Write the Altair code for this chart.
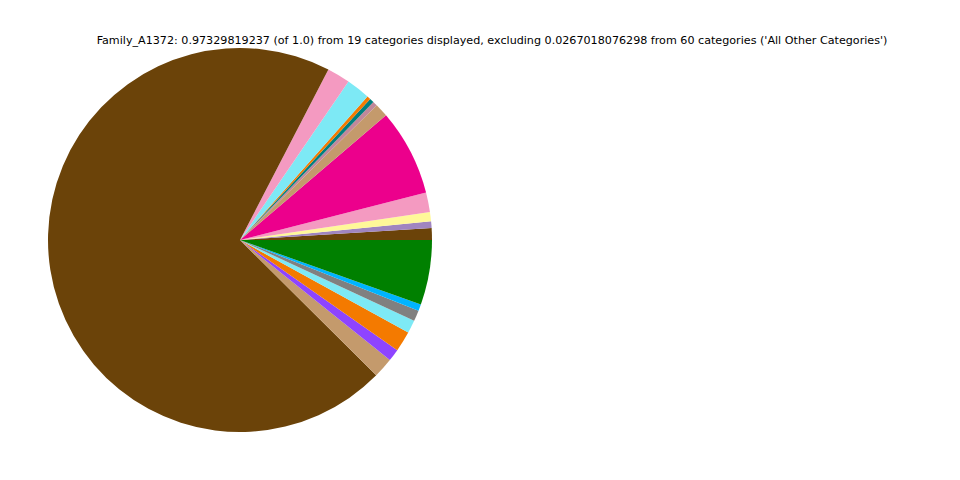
import math
import altair as alt
import pandas as pd

# Slices in matplotlib order (counter-clockwise from 3 o'clock), sizes read in degrees
categories = [f"Category_{i+1}" for i in range(19)]
values = [3.6, 2.0, 2.8, 5.9, 26.2, 4.1, 1.4, 1.3, 1.1, 7.2, 7.0, 252.6,
          6.1, 3.7, 6.2, 3.9, 3.3, 2.0, 19.6]
colors = ["#6b4309", "#a085c0", "#fff899", "#f49ac1", "#ec008c", "#c49a6c",
          "#c0889a", "#007f7f", "#f47a00", "#7de9f5", "#f49ac1", "#6b4309",
          "#c49a6c", "#8e44ff", "#f47a00", "#7de9f5", "#808080", "#00b4ff",
          "#008000"]
title_text = ("Family_A1372: 0.97329819237 (of 1.0) from 19 categories displayed, "
              "excluding 0.0267018076298 from 60 categories ('All Other Categories')")

n = len(categories)
df = pd.DataFrame({
    "cat": categories,
    "value": values,
    # Vega draws clockwise, so reverse the order to mimic counter-clockwise
    "ord": [n - i for i in range(n)],
})

start = math.pi / 2
pie = alt.Chart(df).mark_arc(outerRadius=192, stroke=None).encode(
    theta=alt.Theta("value:Q", stack=True,
                    scale=alt.Scale(range=[start, start + 2 * math.pi])),
    order=alt.Order("ord:Q"),
    color=alt.Color("cat:N", scale=alt.Scale(domain=categories, range=colors),
                    legend=None),
    x=alt.value(232),
    y=alt.value(232),
)

title = alt.Chart(pd.DataFrame({"t": [title_text]})).mark_text(
    font="DejaVu Sans", fontSize=11.15, align="center", baseline="middle", color="black"
).encode(x=alt.value(484), y=alt.value(33), text="t:N")

chart = alt.layer(pie, title).properties(
    width=944, height=464, padding=0, autosize=alt.AutoSizeParams(type="none")
).configure_view(stroke=None)

chart.save("out.html", embed_options={"renderer": "svg", "actions": False})
